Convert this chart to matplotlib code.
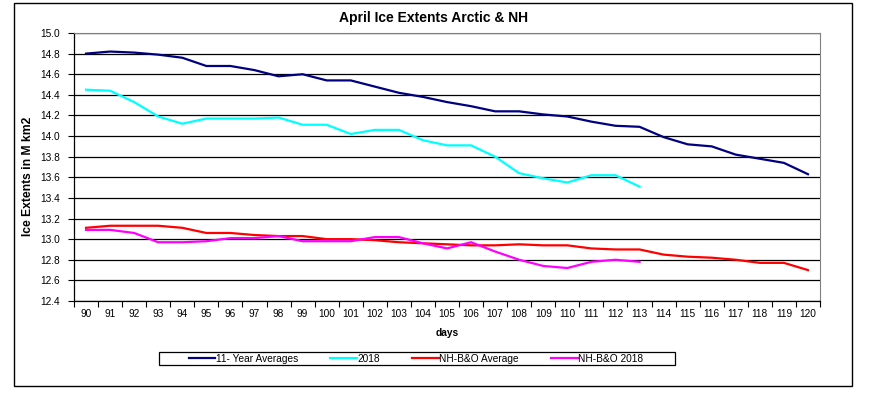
import matplotlib
matplotlib.use("Agg")
import matplotlib.pyplot as plt
import numpy as np
from matplotlib.patches import Rectangle

plt.rcParams['font.family'] = ['Liberation Sans', 'DejaVu Sans']

# day numbers on the category axis
days = list(range(90, 121))

# 11-year average, Arctic (M km2)
avg11 = [14.80, 14.82, 14.81, 14.79, 14.76, 14.68, 14.68, 14.64, 14.58, 14.60,
         14.54, 14.54, 14.48, 14.42, 14.38, 14.33, 14.29, 14.24, 14.24, 14.21,
         14.19, 14.14, 14.10, 14.09, 13.99, 13.92, 13.90, 13.82, 13.78, 13.74,
         13.63]
# 2018 Arctic, data up to day 113
arc2018 = [14.45, 14.44, 14.33, 14.19, 14.12, 14.17, 14.17, 14.17, 14.18, 14.11,
           14.11, 14.02, 14.06, 14.06, 13.96, 13.91, 13.91, 13.80, 13.64, 13.59,
           13.55, 13.62, 13.62, 13.51]
# NH without Baltic & Okhotsk, average
nhbo_avg = [13.11, 13.13, 13.13, 13.13, 13.11, 13.06, 13.06, 13.04, 13.03, 13.03,
            13.00, 13.00, 12.99, 12.97, 12.96, 12.95, 12.94, 12.94, 12.95, 12.94,
            12.94, 12.91, 12.90, 12.90, 12.85, 12.83, 12.82, 12.80, 12.77, 12.77,
            12.70]
# NH without Baltic & Okhotsk, 2018
nhbo_2018 = [13.09, 13.09, 13.06, 12.97, 12.97, 12.98, 13.01, 13.01, 13.03, 12.98,
             12.98, 12.98, 13.02, 13.02, 12.96, 12.91, 12.97, 12.88, 12.80, 12.74,
             12.72, 12.78, 12.80, 12.78]

yticks = np.round(np.arange(12.4, 15.01, 0.2), 1)

fig = plt.figure(figsize=(8.71, 3.96), dpi=100)
ax = fig.add_axes([74/871, 1 - 301/396, (820 - 74)/871, (301 - 33)/396])

pos = np.arange(len(days))
ax.plot(pos, avg11, color='#000080', lw=1.6, label='11- Year Averages')
ax.plot(pos[:len(arc2018)], arc2018, color='#00FFFF', lw=1.6, label='2018')
ax.plot(pos, nhbo_avg, color='#FF0000', lw=1.6, label='NH-B&O Average')
ax.plot(pos[:len(nhbo_2018)], nhbo_2018, color='#FF00FF', lw=1.6, label='NH-B&O 2018')

ax.set_xlim(-0.5, len(days) - 0.5)
ax.set_ylim(12.4, 15.0)

# excel style: ticks between categories, labels at centres
ax.set_xticks(np.arange(-0.5, len(days), 1.0))
ax.set_xticklabels([])
ax.set_xticks(pos, minor=True)
ax.set_xticklabels([str(d) for d in days], minor=True, fontsize=7.3)
ax.tick_params(axis='x', which='major', direction='out', length=4, width=0.8)
ax.tick_params(axis='x', which='minor', length=0, pad=6)

ax.set_yticks(yticks)
ax.set_yticklabels(['%.1f' % t for t in yticks], fontsize=7.3)
ax.tick_params(axis='y', direction='out', length=4, width=0.8, pad=6)

ax.grid(axis='y', color='black', lw=0.9)
ax.set_axisbelow(True)
for side in ['top', 'right']:
    ax.spines[side].set_color('#808080')
    ax.spines[side].set_linewidth(0.8)
for side in ['left', 'bottom']:
    ax.spines[side].set_color('black')
    ax.spines[side].set_linewidth(0.9)

ax.set_xlabel('days', fontsize=7.3, fontweight='bold', labelpad=6)
fig.text(28/871, 1 - 176/396, 'Ice Extents in M km2', fontsize=8.7,
         fontweight='bold', rotation=90, ha='center', va='center')

fig.text(433/871, 1 - 18/396, 'April Ice Extents Arctic & NH', fontsize=10,
         fontweight='bold', ha='center', va='center')

# legend: entries centred in a plain box
leg = fig.legend(loc='center', ncol=4, bbox_to_anchor=(416/871, 1 - 358.5/396),
                 fontsize=7.3, frameon=False, handlelength=2.6,
                 handletextpad=0.05, columnspacing=3.2, borderpad=0,
                 borderaxespad=0)
fig.patches.append(Rectangle((159/871, 1 - 365/396), (675 - 159)/871, 13/396,
                             transform=fig.transFigure, fill=False,
                             edgecolor='black', lw=0.9))

# outer chart frame
fig.patches.append(Rectangle((14/871, 1 - 386/396), (852 - 14)/871, (386 - 3)/396,
                             transform=fig.transFigure, fill=False,
                             edgecolor='black', lw=1.0))

fig.savefig('out.png', dpi=100)
